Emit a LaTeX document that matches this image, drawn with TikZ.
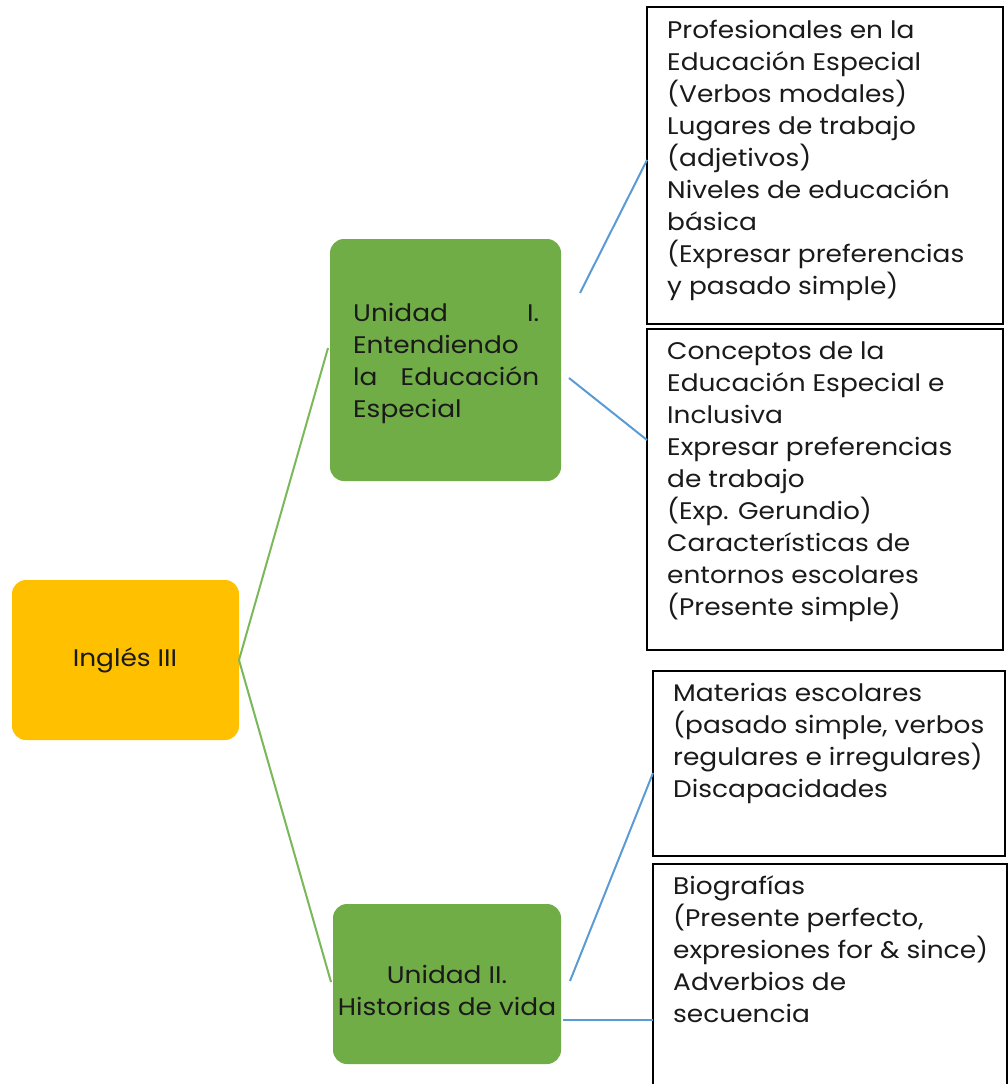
\documentclass[tikz,border=0pt]{standalone}
\usepackage{fontspec}
\setmainfont{Poppins}[FakeStretch=1.1]
\definecolor{gold}{HTML}{FFC000}
\definecolor{leaf}{HTML}{70AD47}
\definecolor{leafline}{HTML}{7AB85A}
\definecolor{sky}{HTML}{5B9BD5}
\definecolor{ink}{HTML}{1A1A1A}
\begin{document}
\begin{tikzpicture}[x=1pt,y=-1pt,
  txt/.style={font=\fontsize{24}{32}\selectfont, text=ink, inner sep=0pt},
  rootbox/.style={fill=gold, rounded corners=14pt, draw=none},
  unitbox/.style={fill=leaf, rounded corners=14pt, draw=none},
  topicbox/.style={draw=black, line width=1.8pt, fill=white},
  tronco/.style={draw=leafline, line width=2pt},
  rama/.style={draw=sky, line width=2pt}]
\useasboundingbox (0,0) rectangle (1008,1084);
% boxes
\path[rootbox] (12,580) rectangle (239,740);
\node[txt] (root) at (125,660) {Inglés III};
\coordinate (rootR) at (239,660);

\path[unitbox] (330,239) rectangle (561,481);
\node[txt, anchor=north west, text width=186pt, align=justify] (u1) at (353,303)
  {Unidad\hfill I.\\Entendiendo\\la\hfill Educación\\Especial};
\coordinate (u1L) at (328,348);
\coordinate (u1Ra) at (580,293);
\coordinate (u1Rb) at (569,378);

\path[unitbox] (333,904) rectangle (561,1064);
\node[txt, align=center] (u2) at (447,990) {Unidad II.\\Historias de vida};
\coordinate (u2L) at (331,982);
\coordinate (u2Ra) at (570,981);
\coordinate (u2Rb) at (563,1020);

\draw[topicbox] (647,7) rectangle (1003,324);
\node[txt, anchor=north west, align=left] (t1) at (667,20)
  {Profesionales en la\\Educación Especial\\(Verbos modales)\\Lugares de trabajo\\(adjetivos)\\Niveles de educación\\básica\\(Expresar preferencias\\y pasado simple)};
\coordinate (t1L) at (647,160);

\draw[topicbox] (647,329) rectangle (1003,650);
\node[txt, anchor=north west, align=left] (t2) at (667,342)
  {Conceptos de la\\Educación Especial e\\Inclusiva\\Expresar preferencias\\de trabajo\\(Exp. Gerundio)\\Características de\\entornos escolares\\(Presente simple)};
\coordinate (t2L) at (647,440);

\draw[topicbox] (653,671) rectangle (1005,856);
\node[txt, anchor=north west, align=left] (t3) at (673,683)
  {Materias escolares\\(pasado simple, verbos\\regulares e irregulares)\\Discapacidades};
\coordinate (t3L) at (653,773);

\draw[topicbox] (653,864) rectangle (1007,1095);
\node[txt, anchor=north west, align=left] (t4) at (673,876)
  {Biografías\\(Presente perfecto,\\expresiones for \& since)\\Adverbios de\\secuencia};
\coordinate (t4L) at (653,1020);

% connectors
\draw[tronco] (rootR) -- (u1L);
\draw[tronco] (rootR) -- (u2L);
\draw[rama] (u1Ra) -- (t1L);
\draw[rama] (u1Rb) -- (t2L);
\draw[rama] (u2Ra) -- (t3L);
\draw[rama] (u2Rb) -- (t4L);
\end{tikzpicture}
\end{document}
